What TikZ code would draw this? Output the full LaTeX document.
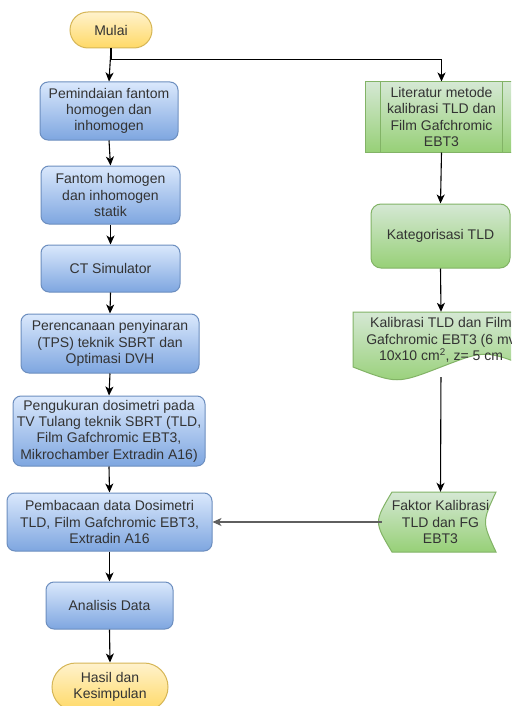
\documentclass[tikz,border=0pt]{standalone}
\usepackage{fontspec}
\setmainfont{Liberation Sans}
\usetikzlibrary{arrows.meta}
\definecolor{txt}{HTML}{333333}
\definecolor{bluetop}{HTML}{DAE8FC}
\definecolor{bluebot}{HTML}{7EA6E0}
\definecolor{blueline}{HTML}{6C8EBF}
\definecolor{greentop}{HTML}{D5E8D4}
\definecolor{greenbot}{HTML}{97D077}
\definecolor{greenline}{HTML}{82B366}
\definecolor{yeltop}{HTML}{FFF2CC}
\definecolor{yelbot}{HTML}{FFD966}
\definecolor{yelline}{HTML}{D6B656}
\definecolor{grayline}{HTML}{5F5F5F}
\tikzset{
  lbl/.style={text=txt, align=center, inner sep=0pt, font=\fontsize{14}{16.3}\selectfont},
  bluebox/.style={lbl, draw=blueline, line width=1pt, top color=bluetop, bottom color=bluebot, rounded corners=8pt},
  greenbox/.style={lbl, draw=greenline, line width=1pt, top color=greentop, bottom color=greenbot},
  yelbox/.style={lbl, draw=yelline, line width=1pt, top color=yeltop, bottom color=yelbot},
  arr/.style={draw=black, line width=1.1pt, -{Stealth[length=9pt,width=8pt,inset=2.5pt]}},
}
\begin{document}
\begin{tikzpicture}[x=1pt,y=-1pt]
\useasboundingbox (0,0) rectangle (511,706);
\clip (0,0) rectangle (511,706);
\fill[white] (0,0) rectangle (511,706);

% left column
\node[yelbox, minimum width=82pt, minimum height=36pt, rounded corners=18pt] (mulai) at (111,30) {Mulai};
\node[bluebox, minimum width=138pt, minimum height=58pt] (pem) at (109,111) {Pemindaian fantom\\homogen dan\\inhomogen};
\node[bluebox, minimum width=139pt, minimum height=58pt] (fan) at (110.5,195) {Fantom homogen\\dan inhomogen\\statik};
\node[bluebox, minimum width=139pt, minimum height=47pt] (ct) at (110.5,268.5) {CT Simulator};
\node[bluebox, minimum width=178pt, minimum height=59pt] (per) at (110,343.5) {Perencanaan penyinaran\\(TPS) teknik SBRT dan\\Optimasi DVH};
\node[bluebox, minimum width=192pt, minimum height=70pt] (peng) at (109,431) {Pengukuran dosimetri pada\\TV Tulang teknik SBRT (TLD,\\Film Gafchromic EBT3,\\Mikrochamber Extradin A16)};
\node[bluebox, minimum width=205pt, minimum height=58pt] (pemb) at (109.5,522) {Pembacaan data Dosimetri\\TLD, Film Gafchromic EBT3,\\Extradin A16};
\node[bluebox, minimum width=127pt, minimum height=47pt] (ana) at (109.5,605.5) {Analisis Data};
\node[yelbox, minimum width=116pt, minimum height=48pt, rounded corners=24pt] (hasil) at (110,687) {Hasil dan\\Kesimpulan};

% right column
\node[greenbox, minimum width=153pt, minimum height=70pt] (lit) at (441.5,117) {Literatur metode\\kalibrasi TLD dan\\Film Gafchromic\\EBT3};
\draw[greenline, line width=1pt] ([xshift=16pt]lit.north west) -- ([xshift=16pt]lit.south west);
\draw[greenline, line width=1pt] ([xshift=-16pt]lit.north east) -- ([xshift=-16pt]lit.south east);
\node[greenbox, minimum width=139pt, minimum height=64pt, rounded corners=10pt] (kat) at (440.5,236) {Kategorisasi TLD};

\shadedraw[draw=greenline, line width=1pt, top color=greentop, bottom color=greenbot]
  (353,312) -- (529,312) -- (529,367)
  .. controls (485,350) .. (441,367)
  .. controls (397,384) .. (353,367) -- cycle;
\node[lbl, minimum width=176pt, minimum height=56pt] (kal) at (441,340) {Kalibrasi TLD dan Film\\Gafchromic EBT3 (6 mv\\10x10 cm\textsuperscript{2}, z= 5 cm};

\shadedraw[draw=greenline, line width=1pt, top color=greentop, bottom color=greenbot]
  (392,492) -- (496,492) .. controls (482,522) .. (496,552)
  -- (392,552) .. controls (374,522) .. (392,492) -- cycle;
\node[lbl, minimum width=117pt, minimum height=60pt] (fak) at (440.5,522) {Faktor Kalibrasi\\TLD dan FG\\EBT3};

% connectors
\draw[arr] (mulai.south) -- (pem.north);
\draw[arr] (mulai.south) -- ++(0,11) -| (lit.north);
\draw[arr] (pem.south) -- (fan.north);
\draw[arr] (fan.south) -- (ct.north);
\draw[arr] (ct.south) -- (per.north);
\draw[arr] (per.south) -- (peng.north);
\draw[arr] (peng.south) -- (pemb.north);
\draw[arr] (pemb.south) -- (ana.north);
\draw[arr] (ana.south) -- (hasil.north);
\draw[arr] (lit.south) -- (kat.north);
\draw[arr] (kat.south) -- (kal.north);
\draw[arr, shorten <=9pt] (kal.south) -- (fak.north);
\draw[arr, draw=grayline] (fak.west) -- (pemb.east);
\end{tikzpicture}
\end{document}
